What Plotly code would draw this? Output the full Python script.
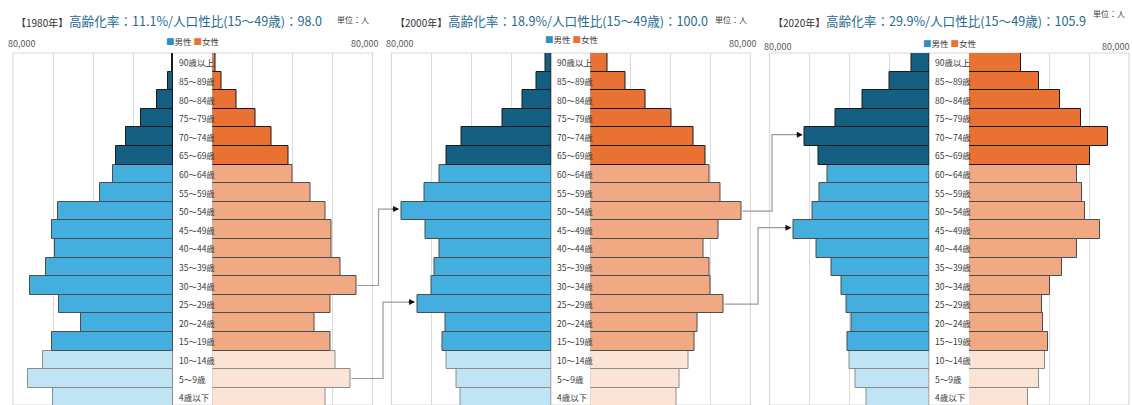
import plotly.graph_objects as go

W, H = 1132, 405

ages = ["4歳以下", "5～9歳", "10～14歳", "15～19歳", "20～24歳", "25～29歳", "30～34歳",
        "35～39歳", "40～44歳", "45～49歳", "50～54歳", "55～59歳", "60～64歳", "65～69歳",
        "70～74歳", "75～79歳", "80～84歳", "85～89歳", "90歳以上"]

male_1980 = [59800, 72300, 65200, 60300, 46000, 57200, 71700, 63700, 59000, 60300,
             57300, 36300, 29800, 28700, 23300, 16000, 8000, 2700, 600]
female_1980 = [56300, 69000, 61700, 59000, 50800, 58800, 72000, 64000, 59500, 59700,
               56500, 49000, 40200, 37800, 29700, 21700, 12000, 4700, 1700]
male_2000 = [45600, 47600, 52700, 54700, 52900, 67200, 60100, 58600, 56200, 63200,
             75200, 63600, 56100, 52700, 45100, 24700, 14400, 7600, 3100]
female_2000 = [43100, 44500, 49100, 52100, 53300, 66500, 59800, 59300, 56600, 64100,
               75500, 64800, 59300, 57300, 51300, 40500, 27500, 17600, 8500]
male_2020 = [31300, 36800, 39800, 41000, 39200, 41500, 44200, 49200, 56300, 68000,
             58700, 55000, 51200, 55500, 62300, 46800, 33300, 19800, 9200]
female_2020 = [29700, 34800, 38000, 39500, 37200, 36700, 40700, 46300, 54000, 65700,
               58200, 56500, 54000, 60500, 69300, 56200, 45500, 35200, 25800]

years = ["1980", "2000", "2020"]
aging_rate = ["11.1", "18.9", "29.9"]
sex_ratio = ["98.0", "100.0", "105.9"]
AXIS_MAX = 80000

# panel geometry in pixels: (left edge of male axis, left edge of female axis)
panels = [(13, 212.5), (391.5, 590.5), (769.5, 969)]
AX_W = 160
TOP = 53
ROW = 18.6

M_COL = {"young": "#c1e4f5", "work": "#44aedf", "old": "#156082"}
F_COL = {"young": "#fbe3d6", "work": "#f1a983", "old": "#e97132"}
LINE = {"young": "#8c8c8c", "work": "#4d4d4d", "old": "#1a1a1a"}
FONT = "Noto Sans CJK JP"


def group(i):
    if i <= 2:
        return "young"
    if i <= 12:
        return "work"
    return "old"


groups = [group(i) for i in range(len(ages))]

fig = go.Figure()
ydom = [0, 1 - TOP / H]
layout = dict(
    width=W, height=H, margin=dict(l=0, r=0, t=0, b=0),
    paper_bgcolor="white", plot_bgcolor="rgba(0,0,0,0)",
    showlegend=False, bargap=0,
    font=dict(family=FONT, color="#404040"),
    yaxis=dict(domain=ydom, type="category", categoryorder="array", categoryarray=ages,
               range=[18.5 - (H - TOP) / ROW, 18.5], visible=False, fixedrange=True),
)

data_sets = [(male_1980, female_1980), (male_2000, female_2000), (male_2020, female_2020)]
shapes = []
annotations = []


def px_m(k, v):
    return panels[k][0] + AX_W - v * AX_W / AXIS_MAX


def px_f(k, v):
    return panels[k][1] + v * AX_W / AXIS_MAX


def py_row(i):
    return TOP + (len(ages) - 1 - i + 0.5) * ROW


for k, (mv, fv) in enumerate(data_sets):
    ml, fl = panels[k]
    xm = f"x{2 * k + 1}" if k > 0 else "x"
    xf = f"x{2 * k + 2}"
    ax_m = "xaxis" if k == 0 else f"xaxis{2 * k + 1}"
    ax_f = f"xaxis{2 * k + 2}"
    grid = dict(tickmode="array", tickvals=[20000, 40000, 60000], showticklabels=False,
                showgrid=True, gridcolor="#dcdcdc", gridwidth=1, zeroline=False,
                showline=False, ticks="", anchor="y", fixedrange=True)
    layout[ax_m] = dict(domain=[ml / W, (ml + AX_W) / W], range=[AXIS_MAX, 0], **grid)
    layout[ax_f] = dict(domain=[fl / W, (fl + AX_W) / W], range=[0, AXIS_MAX], **grid)

    fig.add_trace(go.Bar(
        y=ages, x=mv, orientation="h", xaxis=xm, yaxis="y", width=1,
        marker=dict(color=[M_COL[g] for g in groups],
                    line=dict(color=[LINE[g] for g in groups], width=1)),
        hoverinfo="x+y"))
    fig.add_trace(go.Bar(
        y=ages, x=fv, orientation="h", xaxis=xf, yaxis="y", width=1,
        marker=dict(color=[F_COL[g] for g in groups],
                    line=dict(color=[LINE[g] for g in groups], width=1)),
        hoverinfo="x+y"))

    # frame
    shapes.append(dict(type="rect", xref="paper", yref="paper", layer="below",
                       x0=ml / W, x1=(fl + AX_W) / W, y0=0, y1=1 - TOP / H,
                       line=dict(color="#d9d9d9", width=1.2), fillcolor="rgba(0,0,0,0)"))

    # age labels
    for i, a in enumerate(ages):
        annotations.append(dict(x=(ml + AX_W + 3.5) / W, y=1 - py_row(i) / H, xref="paper",
                                yref="paper", text=a, showarrow=False, xanchor="left",
                                yanchor="middle",
                                font=dict(size=8.5, color="#3a3a3a", family=FONT)))

    # titles
    ty = 22
    annotations.append(dict(x=(ml + 1) / W, y=1 - ty / H, xref="paper", yref="paper",
                            text=f"【{years[k]}年】", showarrow=False, xanchor="left",
                            yanchor="middle",
                            font=dict(size=10, color="#333333", family=FONT)))
    annotations.append(dict(x=(ml + 54) / W, y=1 - (ty - 1) / H, xref="paper", yref="paper",
                            text=f"高齢化率：{aging_rate[k]}%/人口性比(15～49歳)：{sex_ratio[k]}",
                            showarrow=False, xanchor="left", yanchor="middle",
                            font=dict(size=12.6, color="#276a90", family=FONT)))
    uy = [19, 19, 14][k]
    annotations.append(dict(x=(fl + AX_W - 2) / W, y=1 - uy / H, xref="paper", yref="paper",
                            text="単位：人", showarrow=False, xanchor="right", yanchor="middle",
                            font=dict(size=8, color="#404040", family=FONT)))
    # axis max labels
    vy = [44, 44, 46][k]
    annotations.append(dict(x=(ml + 8) / W, y=1 - vy / H, xref="paper", yref="paper",
                            text=f"{AXIS_MAX:,}", showarrow=False, xanchor="center",
                            yanchor="middle",
                            font=dict(size=9, color="#595959", family=FONT)))
    rx = min(fl + AX_W - 6 + 13, W - 1)
    annotations.append(dict(x=rx / W, y=1 - vy / H, xref="paper", yref="paper",
                            text=f"{AXIS_MAX:,}", showarrow=False, xanchor="right",
                            yanchor="middle",
                            font=dict(size=9, color="#595959", family=FONT)))
    # legend
    ly = [41, 39, 43][k]
    annotations.append(dict(x=(ml + AX_W + (fl - ml - AX_W) / 2) / W, y=1 - ly / H,
                            xref="paper", yref="paper",
                            text='<span style="color:#2f8fc4">■</span>男性 '
                                 '<span style="color:#e97132">■</span>女性',
                            showarrow=False, xanchor="center", yanchor="middle",
                            font=dict(size=8.5, color="#404040", family=FONT)))

# cohort connectors: (from panel, female row) -> (to panel, male row), vertical x
connectors = [(0, 6, 1, 10, 378.5), (0, 1, 1, 5, 383), (1, 10, 2, 14, 772), (1, 5, 2, 9, 758)]
for (k0, i0, k1, i1, xv) in connectors:
    x0 = px_f(k0, data_sets[k0][1][i0]) + 1
    y0 = py_row(i0)
    x1 = px_m(k1, data_sets[k1][0][i1]) - 2
    y1 = py_row(i1) - 2
    path = f"M {x0 / W},{1 - y0 / H} L {xv / W},{1 - y0 / H} L {xv / W},{1 - y1 / H} L {(x1 - 6) / W},{1 - y1 / H}"
    shapes.append(dict(type="path", xref="paper", yref="paper", path=path,
                       line=dict(color="#9a9a9a", width=1.2)))
    annotations.append(dict(x=x1 / W, y=1 - y1 / H, xref="paper", yref="paper", text="",
                            showarrow=True, ax=-8, ay=0, arrowhead=2, arrowsize=1,
                            arrowwidth=1.2, arrowcolor="#111111", standoff=0))

layout["shapes"] = shapes
layout["annotations"] = annotations
fig.update_layout(**layout)
fig.write_html("out.html")
